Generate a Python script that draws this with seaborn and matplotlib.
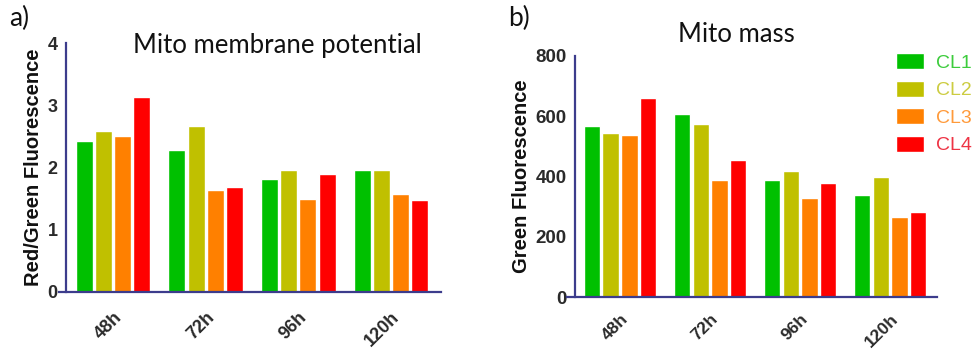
import matplotlib
matplotlib.use("Agg")
import matplotlib.pyplot as plt
import seaborn as sns
import pandas as pd

# ---- data ----
timepoints = ["48h", "72h", "96h", "120h"]
cell_lines = ["CL1", "CL2", "CL3", "CL4"]
potential_CL1 = [2.42, 2.28, 1.82, 1.96]
potential_CL2 = [2.58, 2.66, 1.96, 1.96]
potential_CL3 = [2.50, 1.64, 1.50, 1.57]
potential_CL4 = [3.14, 1.68, 1.89, 1.47]
mass_CL1 = [566, 606, 390, 338]
mass_CL2 = [546, 575, 418, 397]
mass_CL3 = [537, 390, 330, 267]
mass_CL4 = [662, 454, 378, 283]
potential_ticks = [0, 1, 2, 3, 4]
mass_ticks = [0, 200, 400, 600, 800]

bar_colors = ["#00C000", "#C0C000", "#FF8000", "#FF0000"]
label_colors = ["#3ccc3c", "#cccc40", "#ff9a3a", "#ee3344"]

pot = [potential_CL1, potential_CL2, potential_CL3, potential_CL4]
mas = [mass_CL1, mass_CL2, mass_CL3, mass_CL4]
rows = []
for cl, pv, mv in zip(cell_lines, pot, mas):
    for t, p, m in zip(timepoints, pv, mv):
        rows.append({"time": t, "line": cl, "potential": p, "mass": m})
df = pd.DataFrame(rows)

sns.set_style("white")
plt.rcParams["font.family"] = ["Liberation Sans", "DejaVu Sans"]

W, H = 973, 352
fig = plt.figure(figsize=(W / 100, H / 100), dpi=100)

spine_c = "#3c3c8c"
tick_c = "#2a2a2a"


def make_ax(x0, x1, ybot, ytop):
    return fig.add_axes([x0 / W, 1 - ybot / H, (x1 - x0) / W, (ybot - ytop) / H])


def style(ax, xlim, spine_x, ylim, yticks, yfs, xfs, xpad):
    for s in ["top", "right"]:
        ax.spines[s].set_visible(False)
    for s in ["left", "bottom"]:
        ax.spines[s].set_color(spine_c)
        ax.spines[s].set_linewidth(1.6)
    ax.spines["left"].set_position(("data", spine_x))
    ax.set_xlim(*xlim)
    ax.set_ylim(*ylim)
    ax.tick_params(axis="x", length=7, width=1.6, color=spine_c, direction="out", pad=xpad)
    ax.tick_params(axis="y", length=4, width=1.6, color=spine_c, direction="out", pad=2)
    ax.set_yticks(yticks, [str(v) for v in yticks], fontweight="bold",
                  fontsize=yfs, color=tick_c)
    ax.set_xticks(range(len(timepoints)), timepoints, fontweight="bold",
                  fontsize=xfs, color=tick_c, rotation=45, ha="right",
                  rotation_mode="anchor")
    ax.set_xlabel("")


# ---- panel a ----
ax1 = make_ax(59, 441, 292, 43)
sns.barplot(data=df, x="time", y="potential", hue="line", order=timepoints,
            hue_order=cell_lines, palette=bar_colors, width=0.83, gap=0.12,
            saturation=1, legend=False, ax=ax1, errorbar=None)
style(ax1, (-0.583, 3.54), -0.507, (0, 4), potential_ticks, 13, 13, 5)
ax1.set_ylabel("Red/Green Fluorescence", fontsize=14.5, fontweight="bold", color="#111111", labelpad=3)

# ---- panel b ----
ax2 = make_ax(567, 937, 297, 56)
sns.barplot(data=df, x="time", y="mass", hue="line", order=timepoints,
            hue_order=cell_lines, palette=bar_colors, width=0.83, gap=0.12,
            saturation=1, legend=True, ax=ax2, errorbar=None)
style(ax2, (-0.589, 3.52), -0.5, (0, 800), mass_ticks, 13.5, 12.5, 3)
ax2.set_ylabel("Green Fluorescence", fontsize=14.5, fontweight="bold", color="#111111", labelpad=3)

handles, labels = ax2.get_legend_handles_labels()
ax2.get_legend().remove()
leg = fig.legend(handles, labels, loc="upper left", bbox_to_anchor=(896 / W, 1 - 53 / H),
                 frameon=False, fontsize=14, handlelength=1.45, handleheight=0.9,
                 labelspacing=0.45, handletextpad=0.6, borderpad=0, borderaxespad=0)
for txt, c in zip(leg.get_texts(), label_colors):
    txt.set_color(c)

# ---- titles and panel labels ----
title_font = ["Lato", "DejaVu Sans"]
fig.text(277 / W, 1 - 45 / H, "Mito membrane potential", ha="center", va="center",
         fontsize=18.5, family=title_font, color="#111111")
fig.text(736 / W, 1 - 35 / H, "Mito mass", ha="center", va="center",
         fontsize=18.5, family=title_font, color="#111111")
fig.text(9 / W, 1 - 18 / H, "a)", ha="left", va="center", fontsize=19,
         family=title_font, color="#111111")
fig.text(508 / W, 1 - 18 / H, "b)", ha="left", va="center", fontsize=19,
         family=title_font, color="#111111")

fig.savefig("out.png", dpi=100)
